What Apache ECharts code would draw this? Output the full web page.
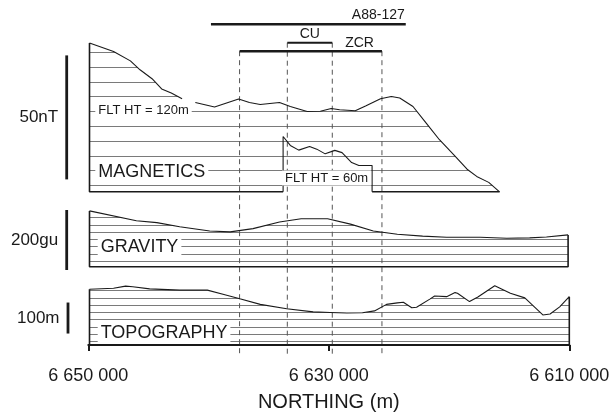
<!DOCTYPE html>
<html>
<head>
<meta charset="utf-8">
<script src="https://cdn.jsdelivr.net/npm/echarts@6/dist/echarts.min.js"></script>
<style>
html,body{margin:0;padding:0;background:#fff}
#chart{width:611px;height:415px}
</style>
</head>
<body>
<div id="chart"></div>
<script>
// northing in metres
var magNorth120 = [6649900, 6647900, 6646500, 6645700, 6644700, 6643900, 6643100, 6642200, 6641100, 6639500, 6638500, 6637500, 6636600, 6635700, 6634100, 6633200, 6631800, 6630700, 6629800, 6629100, 6627800, 6626900, 6625700, 6624800, 6624100, 6623000, 6621900, 6620800, 6619600, 6618500, 6617700, 6616700, 6615800];
var magVal120 = [60.0, 56.6, 52.8, 49.2, 45.6, 41.5, 39.8, 37.5, 36.0, 34.2, 35.8, 37.4, 36.0, 35.2, 36.0, 34.4, 32.4, 32.5, 33.6, 33.1, 32.7, 34.7, 37.5, 38.4, 37.8, 34.4, 27.7, 21.0, 14.9, 9.1, 6.2, 3.8, 0];
var magGapAfter = 7; // line is broken where the FLT HT = 120m label sits

var magNorth60 = [6633800, 6633200, 6632500, 6631600, 6631000, 6630300, 6629500, 6628900, 6628100, 6627500, 6626400];
var magVal60 = [22.3, 18.7, 16.8, 18.3, 17.2, 15.3, 16.7, 15.8, 11.8, 10.6, 10.6];

var gravNorth = [6649900, 6646000, 6644300, 6642400, 6639900, 6638200, 6636300, 6634100, 6632300, 6630100, 6628200, 6626300, 6624300, 6622200, 6620200, 6617400, 6615200, 6613300, 6611900, 6610100];
var gravVal = [186, 153, 147, 133, 119, 116, 127, 149, 160, 160, 142, 119, 108, 102, 98, 98, 95, 96, 99, 106];

var topoNorth = [6649900, 6647900, 6646900, 6646300, 6644900, 6642400, 6640100, 6638800, 6637400, 6635700, 6633500, 6631300, 6629900, 6628500, 6627200, 6626200, 6625200, 6624300, 6623800, 6623100, 6622700, 6621600, 6621200, 6620200, 6619500, 6619300, 6618300, 6617600, 6616200, 6614900, 6613700, 6612200, 6611600, 6610800, 6610000];
var topoVal = [180, 183, 190, 188, 181, 177, 177, 164, 149, 131, 117, 107, 105, 103, 104, 110, 131, 136, 138, 120, 122, 148, 158, 156, 169, 167, 140, 155, 191, 167, 152, 97, 100, 123, 156];

var barNames = ['A88-127', 'CU', 'ZCR'];
var barFrom = [6639800, 6633450, 6637420];
var barTo = [6623600, 6629710, 6625580];

var scaleNames = ['50nT', '200gu', '100m'];
var scaleFrom = [5, -11, 37];
var scaleTo = [55, 189, 137];

var xTicks = [6650000, 6630000, 6610000];

// layout
var FONT = "'Liberation Sans', Arial, Helvetica, sans-serif";
var INK = '#1a1a1a';
var GL = 88.3, GR = 41.7;
var BAR_Y = [24.3, 42.7, 51.2];
var BAR_W = [2.6, 2, 2.6];
var AXIS_Y = 357.7;

function pairs(north, vals) {
	var out = [];
	for (var i = 0; i < north.length; i++) out.push([north[i], vals[i]]);
	return out;
}
function hatch(period, count, phase) {
	var c = document.createElement('canvas');
	c.width = 8;
	c.height = Math.round(period * count);
	var ctx = c.getContext('2d');
	ctx.strokeStyle = '#7a7a7a';
	ctx.lineWidth = 1;
	for (var k = 0; k < count; k++) {
		var y = Math.floor(phase + k * period) + 0.5;
		ctx.beginPath();
		ctx.moveTo(0, y);
		ctx.lineTo(8, y);
		ctx.stroke();
	}
	return {image: c, repeat: 'repeat'};
}
function spaced(v) {
	return String(v).replace(/\B(?=(\d{3})+(?!\d))/g, ' ');
}

var mag120 = pairs(magNorth120, magVal120);
var mag60 = pairs(magNorth60, magVal60);
var grav = pairs(gravNorth, gravVal);
var topo = pairs(topoNorth, topoVal);

var mag120Line = mag120.slice(0, magGapAfter + 1).concat([[magNorth120[magGapAfter], '-']], mag120.slice(magGapAfter + 1));
var mag60Line = [[magNorth60[0], 0]].concat(mag60, [[magNorth60[magNorth60.length - 1], 0]]);

function frame(d) {
	var a = d[0], b = d[d.length - 1];
	return [[a[0], a[1]], [a[0], 0], [b[0], 0], [b[0], b[1]]];
}
var magFrame = [[mag120[0][0], mag120[0][1]], [mag120[0][0], 0], [magNorth60[0], 0], [magNorth60[0], '-'],
	[magNorth60[magNorth60.length - 1], 0], [magNorth120[magNorth120.length - 1], 0]];

var hatchMag = hatch(14.8, 10, 8.1);
var hatchSmall = hatch(7.3, 10, 6.0);

var chart = echarts.init(document.getElementById('chart'), null, {renderer: 'canvas'});

var xBase = {type: 'value', min: 6610000, max: 6650000, inverse: true, show: false};
var xAxes = [0, 1, 2].map(function (i) {
	var ax = echarts.util.clone(xBase);
	ax.gridIndex = i;
	return ax;
});
xAxes[2].show = true;
xAxes[2].position = 'bottom';
xAxes[2].offset = AXIS_Y - 345;
xAxes[2].axisLine = {show: true, lineStyle: {color: INK, width: 2}};
xAxes[2].axisTick = {show: true, customValues: xTicks, length: 6, lineStyle: {color: INK, width: 2}};
xAxes[2].axisLabel = {customValues: xTicks, formatter: spaced, fontSize: 18, fontFamily: FONT, color: INK, margin: 9};
xAxes[2].splitLine = {show: false};
xAxes[2].name = 'NORTHING (m)';
xAxes[2].nameLocation = 'middle';
xAxes[2].nameGap = 35;
xAxes[2].nameTextStyle = {fontSize: 20, fontFamily: FONT, color: INK};

function lineSeries(idx, data, width, z) {
	return {type: 'line', xAxisIndex: idx, yAxisIndex: idx, data: data, showSymbol: false, symbol: 'none',
		connectNulls: false, clip: false, z: z, lineStyle: {color: INK, width: width}, silent: true};
}
function areaSeries(idx, data, pattern) {
	return {type: 'line', xAxisIndex: idx, yAxisIndex: idx, data: data, showSymbol: false, symbol: 'none',
		z: 1, lineStyle: {width: 0, opacity: 0}, areaStyle: {color: pattern, opacity: 1}, silent: true};
}

var option = {
	animation: false,
	backgroundColor: '#fff',
	grid: [
		{left: GL, right: GR, top: 191.8 - 62 * 2.48, height: 62 * 2.48, outerBoundsMode: 'none'},
		{left: GL, right: GR, top: 206.7, height: 60, outerBoundsMode: 'none'},
		{left: GL, right: GR, top: 283, height: 62, outerBoundsMode: 'none'}
	],
	xAxis: xAxes,
	yAxis: [
		{type: 'value', gridIndex: 0, min: 0, max: 62, show: false},
		{type: 'value', gridIndex: 1, min: 0, max: 200, show: false},
		{type: 'value', gridIndex: 2, min: 0, max: 200, show: false}
	],
	series: [
		areaSeries(0, mag120, hatchMag),
		areaSeries(1, grav, hatchSmall),
		areaSeries(2, topo, hatchSmall),
		{
			type: 'custom', xAxisIndex: 0, yAxisIndex: 0, z: 2, silent: true,
			data: [[barFrom[1], 1], [barTo[1], 1], [barFrom[2], 2], [barTo[2], 2]],
			renderItem: function (params, api) {
				var x = api.coord([api.value(0), 0])[0];
				return {type: 'line', shape: {x1: x, y1: BAR_Y[api.value(1)], x2: x, y2: AXIS_Y - 1},
					style: {stroke: '#555', lineWidth: 1, lineDash: [5, 4]}};
			}
		},
		lineSeries(0, mag120Line, 1.1, 3),
		lineSeries(0, mag60Line, 1.1, 3),
		lineSeries(0, magFrame, 1.6, 3),
		lineSeries(1, grav, 1.1, 3),
		lineSeries(1, frame(grav), 1.6, 3),
		lineSeries(2, topo, 1.1, 3),
		lineSeries(2, frame(topo), 1.6, 3),
		{
			type: 'custom', xAxisIndex: 0, yAxisIndex: 0, z: 4, silent: true,
			data: barNames.map(function (n, i) { return [barFrom[i], barTo[i], i]; }),
			renderItem: function (params, api) {
				var i = api.value(2);
				var x1 = api.coord([api.value(0), 0])[0];
				var x2 = api.coord([api.value(1), 0])[0];
				var y = BAR_Y[i];
				var lx, ly, al;
				if (i === 0) { lx = x2 - 1; ly = 15; al = 'right'; }
				else if (i === 1) { lx = (x1 + x2) / 2; ly = 34.3; al = 'center'; }
				else { lx = x2 - 8; ly = 43.3; al = 'right'; }
				return {type: 'group', children: [
					{type: 'line', shape: {x1: x1, y1: y, x2: x2, y2: y}, style: {stroke: INK, lineWidth: BAR_W[i]}},
					{type: 'text', style: {text: barNames[i], x: lx, y: ly, fill: INK, font: '14px ' + FONT,
						align: al, textAlign: al, verticalAlign: 'middle', textVerticalAlign: 'middle'}}
				]};
			}
		}
	]
};
chart.setOption(option);

// panel labels and scale bars
function label(text, x, y, size) {
	return {type: 'text', x: x, y: y, z: 20, silent: true,
		style: {text: text, fill: INK, font: size + 'px ' + FONT, align: 'left', textAlign: 'left',
			verticalAlign: 'middle', textVerticalAlign: 'middle', backgroundColor: '#fff', padding: [1, 3]}};
}
var graphics = [
	label('MAGNETICS', 95.3, 172.3, 18),
	label('FLT HT = 120m', 95.3, 110.5, 13),
	label('FLT HT = 60m', 282, 178, 13),
	label('GRAVITY', 97.7, 247.5, 18),
	label('TOPOGRAPHY', 97.7, 332.7, 18)
];
var scaleX = [66.7, 66.7, 68];
for (var i = 0; i < scaleNames.length; i++) {
	var y1 = chart.convertToPixel({yAxisIndex: i}, scaleFrom[i]);
	var y2 = chart.convertToPixel({yAxisIndex: i}, scaleTo[i]);
	graphics.push({type: 'line', silent: true, shape: {x1: scaleX[i], y1: y1, x2: scaleX[i], y2: y2},
		style: {stroke: INK, lineWidth: 2.8}});
	graphics.push({type: 'text', silent: true, x: scaleX[i] - 8.5, y: (y1 + y2) / 2,
		style: {text: scaleNames[i], fill: INK, font: '17px ' + FONT, align: 'right', textAlign: 'right',
			verticalAlign: 'middle', textVerticalAlign: 'middle'}});
}
chart.setOption({graphic: graphics});
</script>
</body>
</html>
